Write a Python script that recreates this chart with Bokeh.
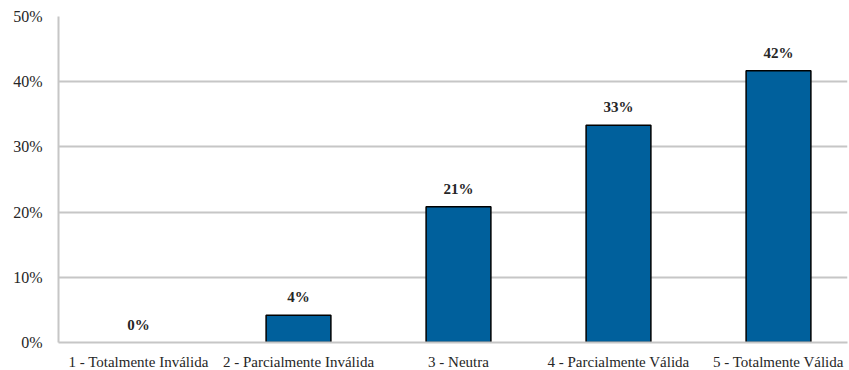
from bokeh.plotting import figure
from bokeh.models import ColumnDataSource, Range1d, FixedTicker, NumeralTickFormatter, LabelSet
from bokeh.embed import file_html
from bokeh.resources import INLINE

categories = [
    "1 - Totalmente Inválida",
    "2 - Parcialmente Inválida",
    "3 - Neutra",
    "4 - Parcialmente Válida",
    "5 - Totalmente Válida",
]
shares = [0.0, 0.0417, 0.2083, 0.3333, 0.4167]
y_ticks = [0.0, 0.1, 0.2, 0.3, 0.4, 0.5]

positions = list(range(1, len(categories) + 1))
labels = [f"{round(v * 100):d}%" for v in shares]
# empty bars get no outline, so nothing is drawn over the baseline
outline = [1.0 if v > 0 else 0.0 for v in shares]
source = ColumnDataSource(dict(x=positions, share=shares, label=labels, outline=outline))

FONT = "Liberation Serif"
BAR = "#00609C"
GRID = "#C6C6C6"
TEXT = "#262626"

FRAME_W = 789
SLOT_PX = 160  # horizontal space per category

p = figure(
    x_range=Range1d(0.5, 0.5 + FRAME_W / SLOT_PX),
    y_range=Range1d(0, 0.5),
    frame_width=FRAME_W, frame_height=326,
    output_backend="svg", toolbar_location=None,
    min_border_left=58, min_border_right=2, min_border_top=16, min_border_bottom=24,
)
p.outline_line_color = None
p.background_fill_color = "white"

p.vbar(x="x", top="share", width=0.405, source=source,
       fill_color=BAR, line_color="black", line_width=1.5, line_alpha="outline")

p.add_layout(LabelSet(x="x", y="share", text="label", source=source,
                      y_offset=10, text_align="center", text_baseline="bottom",
                      text_font=FONT, text_font_style="bold",
                      text_font_size="15px", text_color=TEXT))

p.xgrid.grid_line_color = None
p.ygrid.grid_line_color = GRID
p.ygrid.grid_line_width = 2
p.ygrid.ticker = FixedTicker(ticks=y_ticks)

p.yaxis.ticker = FixedTicker(ticks=y_ticks)
p.yaxis.formatter = NumeralTickFormatter(format="0%")
p.yaxis.axis_line_color = GRID
p.yaxis.axis_line_width = 2
p.yaxis.major_tick_line_color = None
p.yaxis.minor_tick_line_color = None
p.yaxis.major_label_text_font = FONT
p.yaxis.major_label_text_font_size = "16px"
p.yaxis.major_label_text_color = TEXT
p.yaxis.major_label_standoff = 10

p.xaxis.ticker = FixedTicker(ticks=positions)
p.xaxis.major_label_overrides = {pos: name for pos, name in zip(positions, categories)}
p.xaxis.axis_line_color = GRID
p.xaxis.axis_line_width = 2
p.xaxis.major_tick_line_color = None
p.xaxis.minor_tick_line_color = None
p.xaxis.major_label_text_font = FONT
p.xaxis.major_label_text_font_size = "15px"
p.xaxis.major_label_text_color = TEXT
p.xaxis.major_label_standoff = 5

open("out.html", "w").write(file_html(p, INLINE))
